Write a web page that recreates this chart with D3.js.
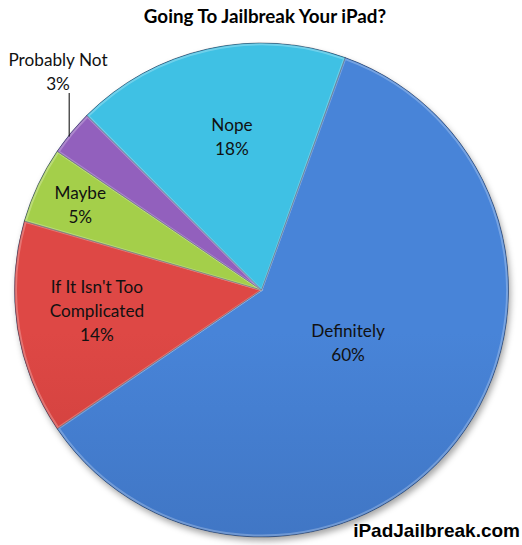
<!DOCTYPE html>
<html>
<head>
<meta charset="utf-8">
<script src="https://cdn.jsdelivr.net/npm/d3@7"></script>
<style>
  html, body { margin: 0; padding: 0; background: #fff; }
  svg { display: block; }
</style>
</head>
<body>
<svg id="chart" width="522" height="545"></svg>
<script>
// ---- data ----
const title = "Going To Jailbreak Your iPad?";
const categories = ["Definitely", "If It Isn't Too Complicated", "Maybe", "Probably Not", "Nope"];
const values = [60, 14, 5, 3, 18];
const labelLines = [["Definitely"], ["If It Isn't Too", "Complicated"], ["Maybe"], ["Probably Not"], ["Nope"]];
const watermark = "iPadJailbreak.com";

// ---- styling / layout ----
const colorsTop = ["#4884d8", "#de4845", "#a4cf4a", "#9260bd", "#3fc1e4"];
const colorsBot = ["#3563aa", "#b2302e", "#86ad30", "#7848a1", "#2ca0c3"];
const cx = 261.5, cy = 290, R = 247;
const startDeg = 19.8;
const labelR = [101.7, 166, 200, null, 156.3];
const labelAngTweak = [-6.1, 1.6, -0.2, 0, 1.7];

const svg = d3.select("#chart");
const defs = svg.append("defs");

const f = defs.append("filter").attr("id", "shadow").attr("x", "-10%").attr("y", "-10%").attr("width", "130%").attr("height", "130%");
f.append("feDropShadow").attr("dx", 2).attr("dy", 4).attr("stdDeviation", 3).attr("flood-color", "#000").attr("flood-opacity", 0.35);

categories.forEach((c, i) => {
  const g = defs.append("linearGradient").attr("id", "g" + i)
    .attr("gradientUnits", "userSpaceOnUse")
    .attr("x1", cx).attr("y1", cy - R).attr("x2", cx).attr("y2", cy + R);
  g.append("stop").attr("offset", "0%").attr("stop-color", colorsTop[i]);
  g.append("stop").attr("offset", "100%").attr("stop-color", colorsBot[i]);
});

// title
svg.append("text")
  .attr("x", 265).attr("y", 23)
  .attr("text-anchor", "middle")
  .attr("font-family", "Lato, 'Open Sans', sans-serif")
  .attr("font-weight", "bold")
  .attr("font-size", 18.8)
  .attr("fill", "#000")
  .text(title);

const data = categories.map((c, i) => ({ name: c, value: values[i], i }));
const pie = d3.pie().sort(null).value(d => d.value)
  .startAngle(startDeg * Math.PI / 180)
  .endAngle(startDeg * Math.PI / 180 + 2 * Math.PI);
const arcs = pie(data);
const arc = d3.arc().innerRadius(0).outerRadius(R);

const gPie = svg.append("g").attr("transform", `translate(${cx},${cy})`);

gPie.append("circle").attr("r", R).attr("fill", "#3b6cb5").attr("filter", "url(#shadow)");

const slices = gPie.selectAll("g.slice").data(arcs).join("g").attr("class", "slice");
slices.append("path")
  .attr("d", arc)
  .attr("fill", d => `url(#g${d.data.i})`)
  .attr("stroke", "rgba(30,40,60,0.5)")
  .attr("stroke-width", 1);
// bevel highlight
slices.append("path")
  .attr("d", d3.arc().innerRadius(0).outerRadius(R - 1.5).padAngle(0.004))
  .attr("fill", "none")
  .attr("stroke", "rgba(255,255,255,0.25)")
  .attr("stroke-width", 2);

// labels
const fontFam = "Lato, 'Open Sans', sans-serif";
arcs.forEach((d, k) => {
  const i = d.data.i;
  const mid = (d.startAngle + d.endAngle) / 2;
  const lines = labelLines[i].concat([d3.format(".0f")(d.data.value) + "%"]);
  let x, y;
  if (labelR[i] !== null) {
    const a = mid + labelAngTweak[i] * Math.PI / 180;
    x = Math.sin(a) * labelR[i];
    y = -Math.cos(a) * labelR[i];
  } else {
    // outside label with leader line
    const ex = Math.sin(mid) * R, ey = -Math.cos(mid) * R;
    x = 58 - cx; y = 71.5 - cy;
    gPie.append("line")
      .attr("x1", ex - 2).attr("y1", 93 - cy)
      .attr("x2", ex - 2).attr("y2", ey + 4)
      .attr("stroke", "#000").attr("stroke-width", 1);
  }
  const lh = 24;
  const t = gPie.append("text")
    .attr("text-anchor", "middle")
    .attr("font-family", fontFam)
    .attr("font-size", 17.2)
    .attr("fill", "#111");
  lines.forEach((ln, j) => {
    t.append("tspan")
      .attr("x", x)
      .attr("y", y + (j - (lines.length - 1) / 2) * lh + 6)
      .text(ln);
  });
});

// watermark
svg.append("text")
  .attr("x", 520).attr("y", 537)
  .attr("text-anchor", "end")
  .attr("font-family", "Arial, 'Liberation Sans', sans-serif")
  .attr("font-weight", "bold")
  .attr("font-size", 19)
  .attr("fill", "#000")
  .text(watermark);
</script>
</body>
</html>
